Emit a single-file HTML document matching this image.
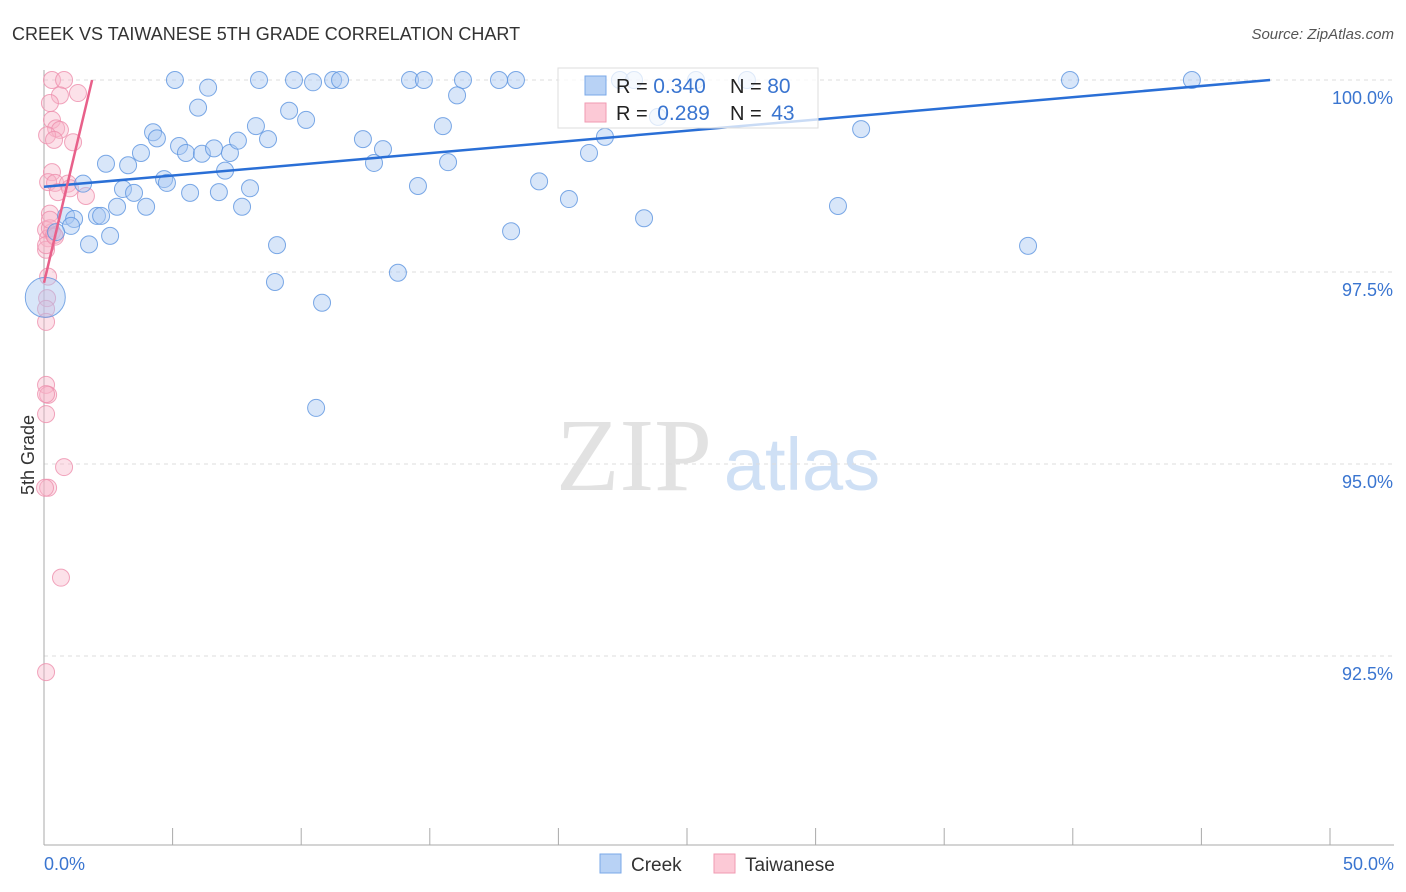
<!DOCTYPE html>
<html><head><meta charset="utf-8"><style>
body{margin:0;background:#fff;font-family:"Liberation Sans",sans-serif;}
</style></head><body>
<svg id="chart" width="1406" height="892" style="display:block">
<text x="12" y="40" font-size="18" fill="#333">CREEK VS TAIWANESE 5TH GRADE CORRELATION CHART</text>
<text x="1394" y="39" font-size="15" fill="#555" font-style="italic" text-anchor="end">Source: ZipAtlas.com</text>
<text transform="translate(34,455) rotate(-90)" font-size="18" fill="#333" text-anchor="middle">5th Grade</text>
<g>
<text x="634" y="490" font-size="104" fill="#e2e2e2" font-family="Liberation Serif,serif" text-anchor="middle">ZIP</text>
<text x="802" y="490" font-size="74" fill="#cfe0f5" text-anchor="middle">atlas</text>
</g>
<g id="grid"></g><g id="axes"></g><g id="pts"></g><g id="trend"></g>
<g>
<rect x="558" y="68" width="260" height="60" fill="#fff" fill-opacity="0.75" stroke="#ddd"/>
<rect x="585" y="76" width="21" height="19" fill="#b8d2f5" stroke="#7aa8e8"/>
<rect x="585" y="103" width="21" height="19" fill="#fcc9d6" stroke="#f09ab2"/>
<text x="616" y="93" font-size="20" fill="#222">R = <tspan fill="#3a75d0" font-size="21">0.340</tspan></text>
<text x="730" y="93" font-size="20" fill="#222">N = <tspan fill="#3a75d0" font-size="21">80</tspan></text>
<text x="616" y="120" font-size="20" fill="#222">R = <tspan fill="#3a75d0" font-size="21" dx="4">0.289</tspan></text>
<text x="730" y="120" font-size="20" fill="#222">N = <tspan fill="#3a75d0" font-size="21" dx="4">43</tspan></text>
</g>
<g>
<rect x="600" y="854" width="21" height="19" fill="#b8d2f5" stroke="#7aa8e8"/>
<text x="631" y="871" font-size="19" fill="#333">Creek</text>
<rect x="714" y="854" width="21" height="19" fill="#fcc9d6" stroke="#f09ab2"/>
<text x="745" y="871" font-size="19" fill="#333">Taiwanese</text>
</g>
</svg>
<script>
const blueX=[5.09,6.38,8.36,9.72,10.46,11.24,11.51,14.23,14.77,16.29,17.69,18.35,22.39,22.94,25.35,27.33,39.89,44.63,5.99,9.53,10.19,16.06,4.24,5.25,4.39,5.52,6.14,6.61,7.23,7.54,8.24,8.71,7.04,3.77,2.41,3.27,4.67,4.78,1.52,3.07,3.50,5.68,6.80,8.01,7.70,2.84,3.97,0.86,1.17,2.06,2.22,1.05,0.47,1.75,2.57,9.06,8.98,10.81,10.58,12.40,13.18,12.83,15.51,15.71,14.54,13.76,18.16,19.25,20.41,21.19,21.81,23.33,23.87,30.87,31.77,38.26,0.05];
const blueY=[100,99.90,100,100,99.97,100,100,100,100,100,100,100,100,100,100,100,100,100,99.64,99.60,99.48,99.80,99.32,99.14,99.24,99.05,99.04,99.11,99.05,99.21,99.40,99.23,98.82,99.05,98.91,98.89,98.71,98.66,98.65,98.58,98.53,98.53,98.54,98.59,98.35,98.35,98.35,98.23,98.19,98.23,98.23,98.10,98.02,97.86,97.97,97.85,97.37,97.10,95.73,99.23,99.10,98.92,99.40,98.93,98.62,97.49,98.03,98.68,98.45,99.05,99.26,98.20,99.52,98.36,99.36,97.84,97.17];
const pinkX=[0.31,0.78,0.62,1.32,0.23,0.31,0.47,0.62,0.12,0.39,1.13,0.31,0.16,0.43,0.93,0.54,1.63,0.23,0.08,0.31,0.16,0.23,0.39,0.08,0.16,0.12,0.08,0.08,0.08,0.16,0.08,0.08,0.78,0.16,0.04,0.66,0.08,0.08,0.23,0.43,1.01];
const pinkY=[100,100,99.80,99.83,99.70,99.48,99.37,99.35,99.28,99.22,99.19,98.80,98.67,98.66,98.65,98.54,98.49,98.26,98.05,98.02,97.94,98.07,97.98,97.79,97.44,97.16,97.02,96.85,96.03,95.90,95.91,95.65,94.96,94.69,94.69,93.52,92.29,97.85,98.18,97.96,98.59];
const blueTrendX=[0,47.67], blueTrendY=[98.61,100];
const pinkTrendX=[0,1.87], pinkTrendY=[97.36,100];
const yTicks=[100,97.5,95,92.5];
const yTickLabels=["100.0%","97.5%","95.0%","92.5%"];
const xTickVals=[0,5,10,15,20,25,30,35,40,45,50];
const NS="http://www.w3.org/2000/svg";
const X=v=>44+v*25.72, Y=v=>80+(100-v)*76.8;
function mk(t,a,p){const e=document.createElementNS(NS,t);for(const k in a)e.setAttribute(k,a[k]);p.appendChild(e);return e;}
const grid=document.getElementById('grid'),axes=document.getElementById('axes'),pts=document.getElementById('pts'),tr=document.getElementById('trend');
yTicks.forEach((v,i)=>{
 const l=mk('line',{x1:44,x2:1394,y1:Y(v),y2:Y(v),stroke:'#ddd','stroke-dasharray':'4,4'},grid);
 
 
 const t=mk('text',{x:1393,y:Y(v)+24,'font-size':18,fill:'#3a75d0','text-anchor':'end'},axes);
 t.textContent=yTickLabels[i];
 
 
});
let a=mk('line',{x1:44,x2:44,y1:70,y2:845,stroke:'#aaa'},axes);


a=mk('line',{x1:44,x2:1394,y1:845,y2:845,stroke:'#aaa'},axes);


xTickVals.forEach(v=>{const l=mk('line',{x1:X(v),x2:X(v),y1:828,y2:845,stroke:'#aaa'},axes);
 
 });
let t=mk('text',{x:44,y:870,'font-size':18,fill:'#3a75d0'},axes);t.textContent='0.0%';


t=mk('text',{x:1394,y:870,'font-size':18,fill:'#3a75d0','text-anchor':'end'},axes);t.textContent='50.0%';


pinkX.forEach((v,i)=>{const c=mk('circle',{cx:X(v),cy:Y(pinkY[i]),r:8.5,fill:'#f7b4c8','fill-opacity':0.4,stroke:'#ee8fac','stroke-opacity':0.8},pts);
 
 });
blueX.forEach((v,i)=>{const big=i===blueX.length-1;const c=mk('circle',{cx:X(v),cy:Y(blueY[i]),r:big?20:8.5,fill:'#a9c8f2','fill-opacity':0.45,stroke:'#5b93e0','stroke-opacity':0.8},pts);
 
 });
let L=mk('line',{x1:X(blueTrendX[0]),y1:Y(blueTrendY[0]),x2:X(blueTrendX[1]),y2:Y(blueTrendY[1]),stroke:'#2a6fd6','stroke-width':2.5},tr);


L=mk('line',{x1:X(pinkTrendX[0]),y1:Y(pinkTrendY[0]),x2:X(pinkTrendX[1]),y2:Y(pinkTrendY[1]),stroke:'#e8608a','stroke-width':2.5},tr);


</script>
</body></html>
